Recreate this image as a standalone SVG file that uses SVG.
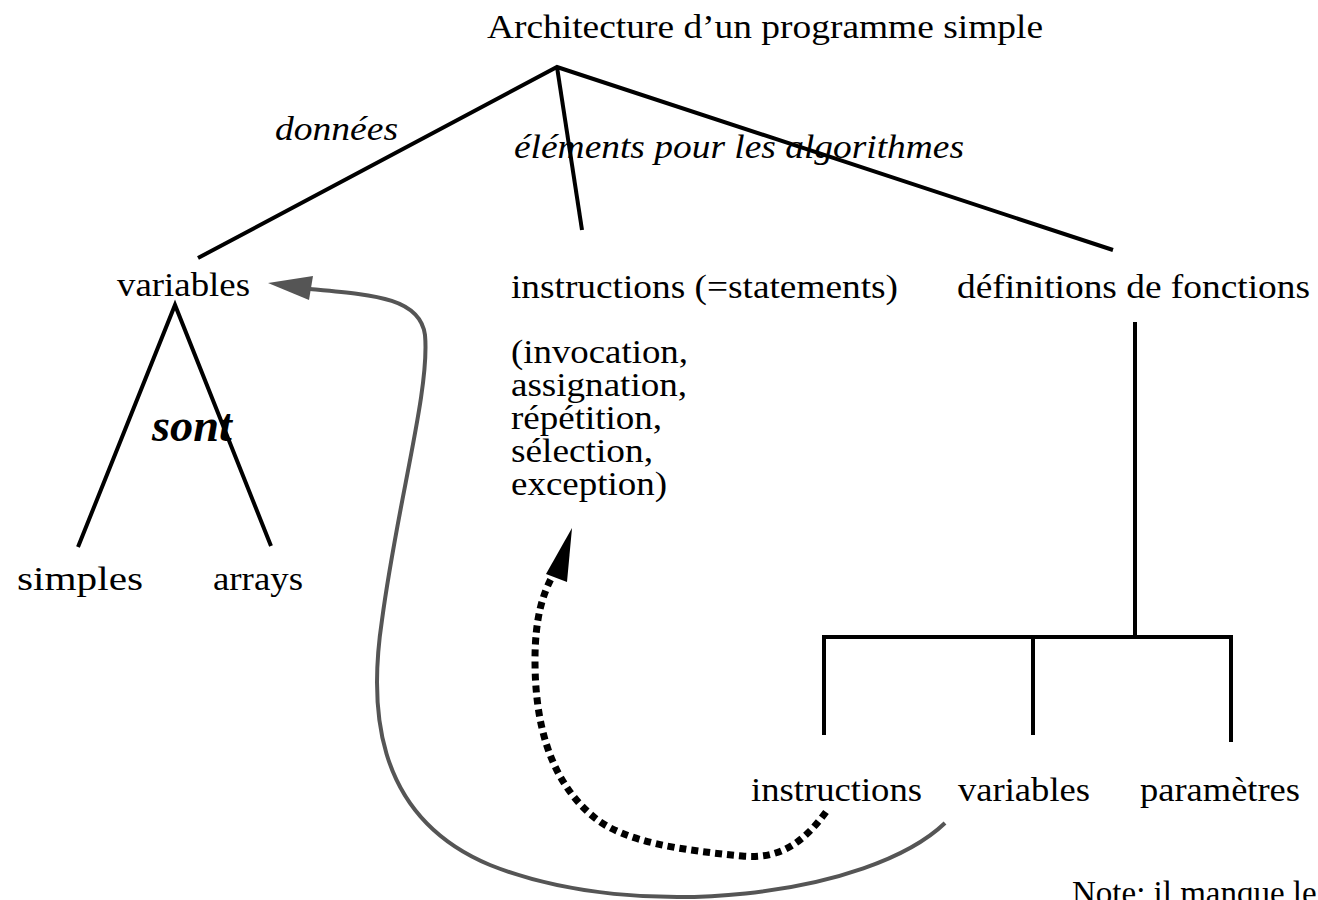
<svg xmlns="http://www.w3.org/2000/svg" width="1318" height="900" viewBox="0 0 1318 900">
<defs>
<style>
.t{font-family:"Liberation Serif","Times New Roman",Times,serif;font-size:33px;fill:#000}
.i{font-style:italic}
.b{font-weight:bold;font-style:italic;font-size:46px}
.ln{stroke:#000;stroke-width:4;fill:none}
.gray{stroke:#555;stroke-width:4;fill:none}
.dot{stroke:#000;stroke-width:7;fill:none;stroke-dasharray:7 5}
</style>
</defs>
<rect width="1318" height="900" fill="#fff"/>
<g id="connectors">
<path class="ln" d="M198 258 L557 67 L1113 250"/>
<path class="ln" d="M557 67 L582 230"/>
<path class="ln" d="M78 547 L175 305 L271 546"/>
<path class="ln" d="M1135 322 L1135 637"/>
<path class="ln" d="M824 735 L824 637 L1231 637 L1231 742"/>
<path class="ln" d="M1033 637 L1033 735"/>
<path class="gray" d="M945 823 C870 895 640 925 490 865 C370 815 370 700 382 620 C398 500 430 390 425 335 C420 298 375 295 310 289"/>
<polygon points="268,283 313,276 309,300" fill="#555"/>
<path class="dot" d="M826 812 C805 840 782 860 742 856 C680 850 625 842 595 818 C548 780 535 720 535 660 C535 620 542 595 553 575"/>
<polygon points="572,528 546,574 567,582" fill="#000"/>
</g>
<g id="title"><text class="t" x="487" y="38" textLength="556" lengthAdjust="spacingAndGlyphs">Architecture d’un programme simple</text></g>
<g id="label-donnees"><text class="t i" x="275" y="140" textLength="123" lengthAdjust="spacingAndGlyphs">données</text></g>
<g id="label-elements"><text class="t i" x="514" y="158" textLength="450" lengthAdjust="spacingAndGlyphs">éléments pour les algorithmes</text></g>
<g id="node-variables"><text class="t" x="117" y="296" textLength="133" lengthAdjust="spacingAndGlyphs">variables</text></g>
<g id="node-instructions"><text class="t" x="511" y="298" textLength="387" lengthAdjust="spacingAndGlyphs">instructions (=statements)</text>
<text class="t" x="511" y="363" textLength="177" lengthAdjust="spacingAndGlyphs">(invocation,</text>
<text class="t" x="511" y="396" textLength="176" lengthAdjust="spacingAndGlyphs">assignation,</text>
<text class="t" x="511" y="429" textLength="151" lengthAdjust="spacingAndGlyphs">répétition,</text>
<text class="t" x="511" y="462" textLength="142" lengthAdjust="spacingAndGlyphs">sélection,</text>
<text class="t" x="511" y="495" textLength="156" lengthAdjust="spacingAndGlyphs">exception)</text></g>
<g id="node-definitions"><text class="t" x="957" y="298" textLength="353" lengthAdjust="spacingAndGlyphs">définitions de fonctions</text></g>
<g id="label-sont"><text class="t b" x="152" y="441" textLength="80" lengthAdjust="spacingAndGlyphs">sont</text></g>
<g id="node-simples"><text class="t" x="17" y="590" textLength="126" lengthAdjust="spacingAndGlyphs">simples</text></g>
<g id="node-arrays"><text class="t" x="213" y="590" textLength="90" lengthAdjust="spacingAndGlyphs">arrays</text></g>
<g id="node-f-instructions"><text class="t" x="751" y="801" textLength="171" lengthAdjust="spacingAndGlyphs">instructions</text></g>
<g id="node-f-variables"><text class="t" x="958" y="801" textLength="132" lengthAdjust="spacingAndGlyphs">variables</text></g>
<g id="node-f-parametres"><text class="t" x="1140" y="801" textLength="160" lengthAdjust="spacingAndGlyphs">paramètres</text></g>
<g id="note"><text class="t" x="1072" y="904">Note: il manque le</text></g>
</svg>
